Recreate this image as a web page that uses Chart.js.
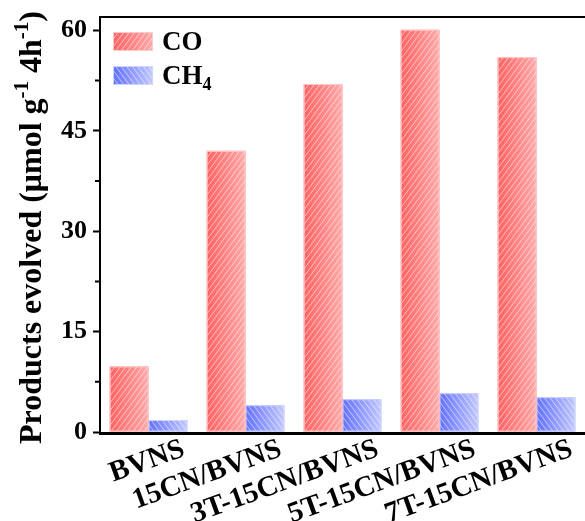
<!DOCTYPE html>
<html>
<head>
<meta charset="utf-8">
<script src="https://cdn.jsdelivr.net/npm/chart.js@4/dist/chart.umd.min.js"></script>
<style>
  html, body { margin: 0; padding: 0; background: #ffffff; }
  canvas { display: block; }
</style>
</head>
<body>
<canvas id="chart" width="585" height="521"></canvas>
<script>
// Photocatalytic CO2 reduction products over 4 h
const categories = ['BVNS', '15CN/BVNS', '3T-15CN/BVNS', '5T-15CN/BVNS', '7T-15CN/BVNS'];
const coValues = [9.8, 42.0, 52.0, 60.1, 56.0];
const ch4Values = [1.8, 4.0, 4.9, 5.8, 5.2];
const yTickValues = [0, 15, 30, 45, 60];
const seriesNames = ['CO', 'CH4'];
// axis title pieces; superscript pieces are raised and smaller
const yTitleParts = [
  { text: 'Products evolved (μmol g' },
  { text: '-1', sup: true },
  { text: ' 4h' },
  { text: '-1', sup: true },
  { text: ')' }
];

const FONT = '"Liberation Serif", "Times New Roman", serif';

// gradient + hatch appearance for each series
const fills = {
  CO:  { from: '#ff6262', to: '#ffaaaa', edge: '#ffcaca', dir: 1 },
  CH4: { from: '#6270ff', to: '#c2c8ff', edge: '#d0d5ff', dir: -1 }
};

function paintHatched(ctx, x0, y0, w, h, st) {
  if (w <= 0 || h <= 0) return;
  ctx.save();
  ctx.beginPath();
  ctx.rect(x0, y0, w, h);
  ctx.clip();
  const g = ctx.createLinearGradient(x0, 0, x0 + w, 0);
  g.addColorStop(0, st.from);
  g.addColorStop(1, st.to);
  ctx.fillStyle = g;
  ctx.fillRect(x0, y0, w, h);
  ctx.strokeStyle = 'rgba(255,255,255,0.55)';
  ctx.lineWidth = 1;
  const gap = 5.5, slope = 1.35;
  const run = h / slope;
  ctx.beginPath();
  for (let s = x0 - run - gap; s < x0 + w + gap; s += gap) {
    if (st.dir > 0) {
      ctx.moveTo(s, y0 + h);
      ctx.lineTo(s + run, y0);
    } else {
      ctx.moveTo(s, y0);
      ctx.lineTo(s + run, y0 + h);
    }
  }
  ctx.stroke();
  ctx.restore();
  ctx.save();
  ctx.strokeStyle = st.edge;
  ctx.lineWidth = 1;
  ctx.strokeRect(x0 + 0.5, y0 + 0.5, w - 1, h - 1);
  ctx.restore();
}

// repaint each bar with its gradient and diagonal hatching
const hatchBars = {
  id: 'hatchBars',
  afterDatasetDraw(chart, args) {
    const ds = chart.data.datasets[args.index];
    const st = fills[ds.label];
    const ctx = chart.ctx;
    args.meta.data.forEach(bar => {
      const p = bar.getProps(['x', 'y', 'base', 'width'], true);
      const top = Math.min(p.y, p.base);
      const h = Math.abs(p.base - p.y);
      paintHatched(ctx, p.x - p.width / 2, top, p.width, h, st);
    });
  }
};

// axis frame (left, top, bottom) and minor ticks on the value axis
const frame = {
  id: 'frame',
  afterDatasetsDraw(chart) {
    const { ctx, chartArea: a, scales } = chart;
    ctx.save();
    ctx.strokeStyle = '#000';
    ctx.lineCap = 'butt';
    ctx.lineWidth = 2;
    ctx.beginPath();
    ctx.moveTo(a.left, a.top - 1);
    ctx.lineTo(a.left, a.bottom);
    ctx.moveTo(a.left - 1, a.top);
    ctx.lineTo(a.right, a.top);
    ctx.stroke();
    ctx.lineWidth = 3;
    ctx.beginPath();
    ctx.moveTo(a.left - 1, a.bottom + 1.5);
    ctx.lineTo(a.right, a.bottom + 1.5);
    ctx.stroke();
    ctx.lineWidth = 2;
    ctx.beginPath();
    const y = scales.y;
    for (let v = 7.5; v < y.max; v += 15) {
      const py = y.getPixelForValue(v);
      ctx.moveTo(a.left - 5, py);
      ctx.lineTo(a.left, py);
    }
    ctx.stroke();
    ctx.restore();
  }
};

// rotated value-axis title with superscripts
const yTitle = {
  id: 'yTitle',
  afterDraw(chart) {
    const { ctx, chartArea: a } = chart;
    const big = 'bold 32px ' + FONT, small = 'bold 21px ' + FONT;
    ctx.save();
    let total = 0;
    yTitleParts.forEach(p => {
      ctx.font = p.sup ? small : big;
      p.w = ctx.measureText(p.text).width;
      total += p.w;
    });
    ctx.translate(41, (a.top + a.bottom) / 2 + 3);
    ctx.rotate(-Math.PI / 2);
    ctx.fillStyle = '#000';
    ctx.textBaseline = 'alphabetic';
    ctx.textAlign = 'left';
    let x = -total / 2;
    yTitleParts.forEach(p => {
      ctx.font = p.sup ? small : big;
      ctx.fillText(p.text, x, p.sup ? -13 : 0);
      x += p.w;
    });
    ctx.restore();
  }
};

// legend in the upper-left corner of the plot, with subscripted digits
const legendBox = {
  id: 'legendBox',
  afterDraw(chart) {
    const { ctx, chartArea: a } = chart;
    const bw = 40, bh = 19, rowH = 34;
    chart.data.datasets.forEach((ds, i) => {
      const x = a.left + 13;
      const y = a.top + 15 + i * rowH;
      paintHatched(ctx, x, y, bw, bh, fills[ds.label]);
      const m = ds.label.match(/^(.*?)(\d*)$/);
      ctx.save();
      ctx.fillStyle = '#000';
      ctx.textBaseline = 'alphabetic';
      ctx.textAlign = 'left';
      ctx.font = 'bold 27px ' + FONT;
      const base = y + bh / 2 + 8;
      ctx.fillText(m[1], x + bw + 9, base);
      if (m[2]) {
        const tw = ctx.measureText(m[1]).width;
        ctx.font = 'bold 18px ' + FONT;
        ctx.fillText(m[2], x + bw + 9 + tw, base + 6);
      }
      ctx.restore();
    });
  }
};

new Chart(document.getElementById('chart'), {
  type: 'bar',
  data: {
    labels: categories,
    datasets: [
      { label: seriesNames[0], data: coValues, backgroundColor: '#ff8f8f', borderWidth: 0 },
      { label: seriesNames[1], data: ch4Values, backgroundColor: '#8f9aff', borderWidth: 0 }
    ]
  },
  options: {
    responsive: false,
    animation: false,
    devicePixelRatio: 1,
    layout: { padding: { top: 17, left: 0, right: 0, bottom: 0 } },
    datasets: { bar: { categoryPercentage: 0.8, barPercentage: 1.0 } },
    plugins: {
      legend: { display: false },
      tooltip: { enabled: false }
    },
    scales: {
      x: {
        grid: { display: false, drawTicks: false },
        border: { display: false },
        ticks: {
          autoSkip: false,
          minRotation: 20,
          maxRotation: 20,
          padding: 0,
          labelOffset: 35,
          color: '#000',
          font: { family: FONT, weight: 'bold', size: 29 }
        },
        afterFit(scale) {
          scale.height = 89;
          scale.paddingLeft = 0;
          scale.paddingRight = 0;
        }
      },
      y: {
        min: 0,
        max: 62,
        grid: {
          display: true,
          drawOnChartArea: false,
          drawTicks: true,
          tickLength: 7,
          tickWidth: 2,
          tickColor: '#000'
        },
        border: { display: false },
        afterBuildTicks(scale) {
          scale.ticks = yTickValues.map(v => ({ value: v }));
        },
        ticks: {
          padding: 6,
          color: '#000',
          font: { family: FONT, weight: 'bold', size: 26 }
        },
        title: { display: false },
        afterFit(scale) {
          scale.width = 100;
          scale.paddingTop = 0;
          scale.paddingBottom = 0;
        }
      }
    }
  },
  plugins: [hatchBars, frame, yTitle, legendBox]
});
</script>
</body>
</html>
